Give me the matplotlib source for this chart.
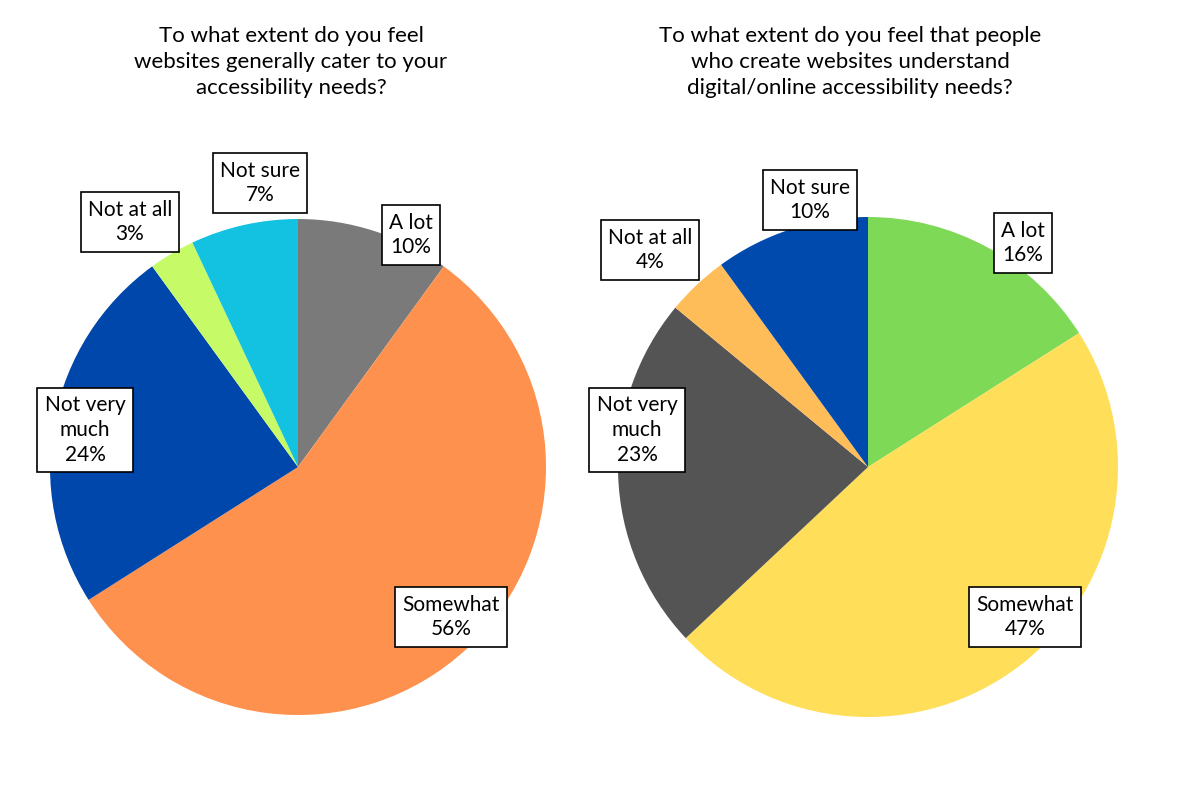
import matplotlib.pyplot as plt

# -----------------------------
# Data
# -----------------------------
left_title = "To what extent do you feel\nwebsites generally cater to your\naccessibility needs?"
right_title = "To what extent do you feel that people\nwho create websites understand\ndigital/online accessibility needs?"

left_labels = ["A lot", "Somewhat", "Not very\nmuch", "Not at all", "Not sure"]
left_values = [10, 56, 24, 3, 7]
left_colors = ["#7a7a7a", "#fd914d", "#0047ab", "#c6fa66", "#12c2e0"]

right_labels = ["A lot", "Somewhat", "Not very\nmuch", "Not at all", "Not sure"]
right_values = [16, 47, 23, 4, 10]
right_colors = ["#7ed957", "#ffde59", "#545454", "#ffbd59", "#004aad"]

# label box centres in pixels (same order as labels)
left_pos = [(411, 235), (451, 617), (85, 430), (130, 222), (260, 183)]
right_pos = [(1023, 243), (1025, 617), (637, 430), (650, 250), (810, 200)]

plt.rcParams["font.family"] = ["Lato", "DejaVu Sans"]

W, H = 1180, 787
fig = plt.figure(figsize=(W / 100, H / 100), dpi=100)


def draw_pie(cx, cy, r, values, colors, labels, pos, title, tx):
    ax = fig.add_axes([(cx - r) / W, (H - cy - r) / H, 2 * r / W, 2 * r / H])
    ax.pie(values, colors=colors, startangle=90, counterclock=False, radius=1)
    ax.set_xlim(-1, 1)
    ax.set_ylim(-1, 1)
    ax.set_aspect("equal")
    ax.axis("off")
    for lab, v, (x, y) in zip(labels, values, pos):
        fig.text(x / W, 1 - y / H, f"{lab}\n{v}%", ha="center", va="center",
                 fontsize=15, linespacing=1.3,
                 bbox=dict(boxstyle="square,pad=0.35", fc="white", ec="black", lw=1.2))
    fig.text(tx / W, 1 - 62 / H, title, ha="center", va="center", fontsize=16, linespacing=1.35)


draw_pie(298, 467, 248, left_values, left_colors, left_labels, left_pos, left_title, 291)
draw_pie(868, 467, 250, right_values, right_colors, right_labels, right_pos, right_title, 850)

plt.savefig("out.png", dpi=100)
plt.close(fig)
